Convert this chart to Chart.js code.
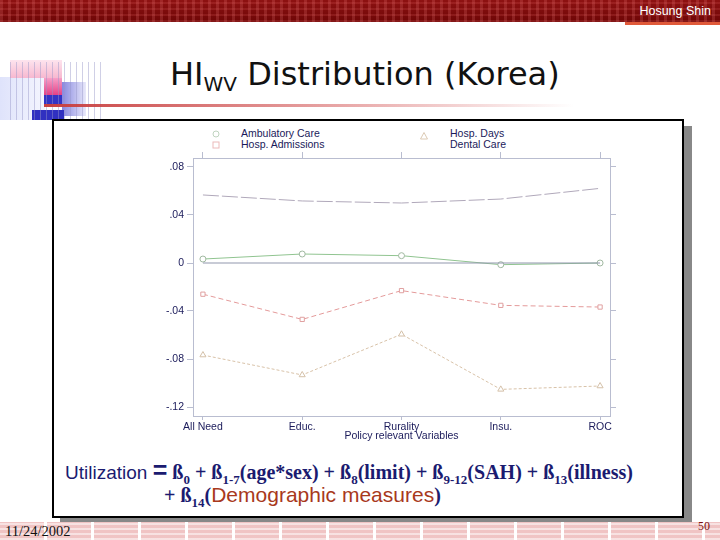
<!DOCTYPE html>
<html>
<head>
<meta charset="utf-8">
<script src="https://cdn.jsdelivr.net/npm/chart.js@4.4.0/dist/chart.umd.min.js"></script>
<style>
  body { margin: 0; width: 720px; height: 540px; position: relative; overflow: hidden; background: #fff; font-family: "Liberation Sans", Arial, sans-serif; }
  .abs { position: absolute; }
  #header { left: 0; top: 0; width: 720px; height: 22px;
    background:
      repeating-linear-gradient(90deg, rgba(255,140,140,0.18) 0 3px, rgba(0,0,0,0) 3px 8px),
      repeating-linear-gradient(0deg, rgba(255,120,120,0.15) 0 2px, rgba(0,0,0,0) 2px 6px),
      linear-gradient(#8e1212, #6e0606); }
  #author { right: 9px; top: 4px; color: #fff; font-size: 12.5px; font-family: "Liberation Sans Narrow", "Liberation Sans", sans-serif; }
  #authorLine { left: 625px; top: 22px; width: 95px; height: 3px; background: #e05a3a; }
  #title { left: 170px; top: 55px; font-family: "DejaVu Sans", Verdana, sans-serif; font-size: 32px; color: #111; white-space: nowrap; }
  #title sub { font-size: 20px; vertical-align: -6px; }
  #rule { left: 44px; top: 104px; width: 530px; height: 3px; background: linear-gradient(90deg, #c84040, rgba(220,120,120,0.6) 60%, rgba(255,255,255,0)); }
  #box { left: 52px; top: 119px; width: 628px; height: 395px; border: 2px solid #000; background: #fff; box-shadow: 8px 7px 0 #888; }
  #footer { left: 0; top: 522px; width: 720px; height: 18px;
    background:
      repeating-linear-gradient(0deg, rgba(255,255,255,0.5) 0 2px, rgba(0,0,0,0) 2px 5px),
      repeating-linear-gradient(90deg, #f0c4c4 0 44px, #fff 44px 47px); }
  #date { left: 5px; top: 523px; font-family: "Liberation Serif", serif; font-size: 14.5px; color: #111; }
  #page { left: 698px; top: 519px; font-family: "Liberation Serif", serif; font-size: 12px; color: #7a1010; }
  #chartWrap { left: 140px; top: 125px; width: 480px; height: 320px; }
  .leg { font-size: 10.5px; color: #1a1a5a; line-height: 11px; white-space: nowrap; }
  #f1, #f2 { white-space: nowrap; color: #1b1b70; }
  .sans { font-family: "Liberation Sans Narrow", "Liberation Sans", sans-serif; font-size: 19px; }
  .ser { font-family: "Liberation Serif", serif; font-weight: bold; font-size: 20px; }
  .ser sub { font-size: 13px; }
  .eq { font-family: "Liberation Sans", sans-serif; font-size: 25px; font-weight: bold; }
  .red { color: #a8391c; font-family: "Liberation Sans Narrow", "Liberation Sans", sans-serif; font-size: 21px; font-weight: normal; }
</style>
</head>
<body>
<div id="header" class="abs"></div>
<div id="author" class="abs">Hosung Shin</div>
<div id="authorLine" class="abs"></div>

<!-- decoration at the left of the title -->
<div class="abs" style="left:0;top:77px;width:45px;height:43px;background:linear-gradient(90deg,#dfe3fb,#f4f5fe);"></div>
<div class="abs" style="left:10px;top:60px;width:52px;height:18px;background:linear-gradient(#fde4ee,#f7b8d0);"></div>
<div class="abs" style="left:44px;top:78px;width:18px;height:20px;background:linear-gradient(#f7a0c8,#e0307a);"></div>
<div class="abs" style="left:44px;top:95px;width:18px;height:10px;background:#3434c4;"></div>
<div class="abs" style="left:62px;top:82px;width:24px;height:34px;background:linear-gradient(90deg,#8888e0,#e8e8fa);"></div>
<div class="abs" style="left:32px;top:110px;width:32px;height:10px;background:#3030c0;"></div>
<div class="abs" style="left:10px;top:62px;width:95px;height:58px;background:repeating-linear-gradient(90deg,rgba(150,150,200,0.45) 0 1px,rgba(0,0,0,0) 1px 6px);"></div>
<div id="rule" class="abs"></div>

<div id="title" class="abs">HI<sub>WV</sub> Distribution (Korea)</div>

<div id="box" class="abs"></div>

<div class="abs" style="left:211px;top:129px;"><svg width="10" height="24">
  <circle cx="5" cy="5" r="3" fill="none" stroke="#c0d4c0" stroke-width="1"/>
  <rect x="2" y="13" width="6" height="6" fill="none" stroke="#ecbaba" stroke-width="1"/>
</svg></div>
<div class="abs" style="left:419px;top:129px;"><svg width="10" height="12">
  <polygon points="5,1.5 8.5,8 1.5,8" fill="none" stroke="#dccab4" stroke-width="1"/>
</svg></div>
<div id="legendA" class="abs leg" style="left:241px;top:128px;"></div>
<div id="legendB" class="abs leg" style="left:450px;top:128px;"></div>

<div id="chartWrap" class="abs"><canvas id="lineChart" width="480" height="320"></canvas></div>

<div id="f1" class="abs" style="left:65px;top:456px;"><span class="sans">Utilization </span><span class="eq">=</span><span class="ser"> ß<sub>0</sub> + ß<sub>1-7</sub>(age*sex) + ß<sub>8</sub>(limit) + ß<sub>9-12</sub>(SAH) + ß<sub>13</sub>(illness)</span></div>
<div id="f2" class="abs" style="left:164px;top:483px;"><span class="ser">+ ß<sub>14</sub>(<span class="red">Demographic measures</span>)</span></div>

<div id="footer" class="abs"></div>
<div id="date" class="abs">11/24/2002</div>
<div id="page" class="abs">50</div>

<script>
const categories = ['All Need', 'Educ.', 'Rurality', 'Insu.', 'ROC'];
const ambulatoryCare = [0.0033, 0.0075, 0.0061, -0.0014, 0.0];
const hospAdmissions = [-0.026, -0.047, -0.023, -0.0353, -0.0367];
const hospDays = [-0.0767, -0.0933, -0.0594, -0.1053, -0.1025];
const dentalCare = [0.0567, 0.0517, 0.0500, 0.0533, 0.0622];
const zeroLine = [0, 0, 0, 0, 0];
const yTicks = [0.08, 0.04, 0, -0.04, -0.08, -0.12];
const yTickLabels = ['.08', '.04', '0', '-.04', '-.08', '-.12'];

const axisColor = '#b9bdd0';
const labelFont = { family: 'Liberation Sans', size: 10.5 };
const labelColor = '#1a1a5a';

function toPoints(values) {
    return values.map((v, i) => ({ x: i, y: v }));
}

document.getElementById('legendA').innerHTML = 'Ambulatory Care<br>Hosp. Admissions';
document.getElementById('legendB').innerHTML = 'Hosp. Days<br>Dental Care';

const data = {
    datasets: [
        {
            label: 'Dental Care',
            data: toPoints(dentalCare),
            borderColor: '#b0a8ba',
            borderWidth: 1,
            borderDash: [16, 3],
            pointRadius: 0,
        },
        {
            label: 'zero',
            data: toPoints(zeroLine),
            borderColor: '#9298ae',
            borderWidth: 1.2,
            pointRadius: 0,
        },
        {
            label: 'Ambulatory Care',
            data: toPoints(ambulatoryCare),
            borderColor: '#90c490',
            borderWidth: 1,
            pointStyle: 'circle',
            pointRadius: 3,
            pointBorderColor: '#a0b8a0',
            pointBackgroundColor: '#fff',
        },
        {
            label: 'Hosp. Admissions',
            data: toPoints(hospAdmissions),
            borderColor: '#e49a9a',
            borderWidth: 1,
            borderDash: [5, 3],
            pointStyle: 'rect',
            pointRadius: 3,
            pointBorderColor: '#e0a0a0',
            pointBackgroundColor: '#fff',
        },
        {
            label: 'Hosp. Days',
            data: toPoints(hospDays),
            borderColor: '#d8c2a8',
            borderWidth: 1,
            borderDash: [3, 2],
            pointStyle: 'triangle',
            pointRadius: 3.5,
            pointBorderColor: '#d4c0a8',
            pointBackgroundColor: '#fff',
        },
    ],
};

const catTicks = scale => { scale.ticks = categories.map((c, i) => ({ value: i })); };
const valTicks = scale => { scale.ticks = yTicks.map(v => ({ value: v })); };

const ctx = document.getElementById('lineChart').getContext('2d');
const lineChart = new Chart(ctx, {
    type: 'line',
    data: data,
    options: {
        responsive: false,
        animation: false,
        layout: { padding: 0 },
        plugins: { legend: { display: false }, tooltip: { enabled: false } },
        scales: {
            x: {
                type: 'linear', position: 'bottom', min: -0.1, max: 4.1,
                afterBuildTicks: catTicks,
                afterFit: s => { s.height = 29; },
                ticks: { callback: v => categories[v], font: labelFont, color: labelColor, padding: 1, maxRotation: 0, autoSkip: false },
                grid: { drawOnChartArea: false, tickLength: 4, color: axisColor },
                border: { color: axisColor },
                title: { display: true, text: 'Policy relevant Variables', font: labelFont, color: labelColor, padding: { top: 0, bottom: 3 } },
            },
            x2: {
                type: 'linear', position: 'top', min: -0.1, max: 4.1,
                afterBuildTicks: catTicks,
                afterFit: s => { s.height = 33; },
                ticks: { display: false },
                grid: { drawOnChartArea: false, tickLength: 6, color: axisColor },
                border: { color: axisColor },
            },
            y: {
                type: 'linear', position: 'left', min: -0.1275, max: 0.0875,
                afterBuildTicks: valTicks,
                afterFit: s => { s.width = 53; },
                ticks: { callback: (v, i) => yTickLabels[i], font: labelFont, color: labelColor, padding: 3 },
                grid: { drawOnChartArea: false, tickLength: 6, color: axisColor },
                border: { color: axisColor },
            },
            y2: {
                type: 'linear', position: 'right', min: -0.1275, max: 0.0875,
                afterBuildTicks: valTicks,
                afterFit: s => { s.width = 10; },
                ticks: { display: false },
                grid: { drawOnChartArea: false, tickLength: 6, color: axisColor },
                border: { color: axisColor },
            },
        },
    },
});
</script>
</body>
</html>
